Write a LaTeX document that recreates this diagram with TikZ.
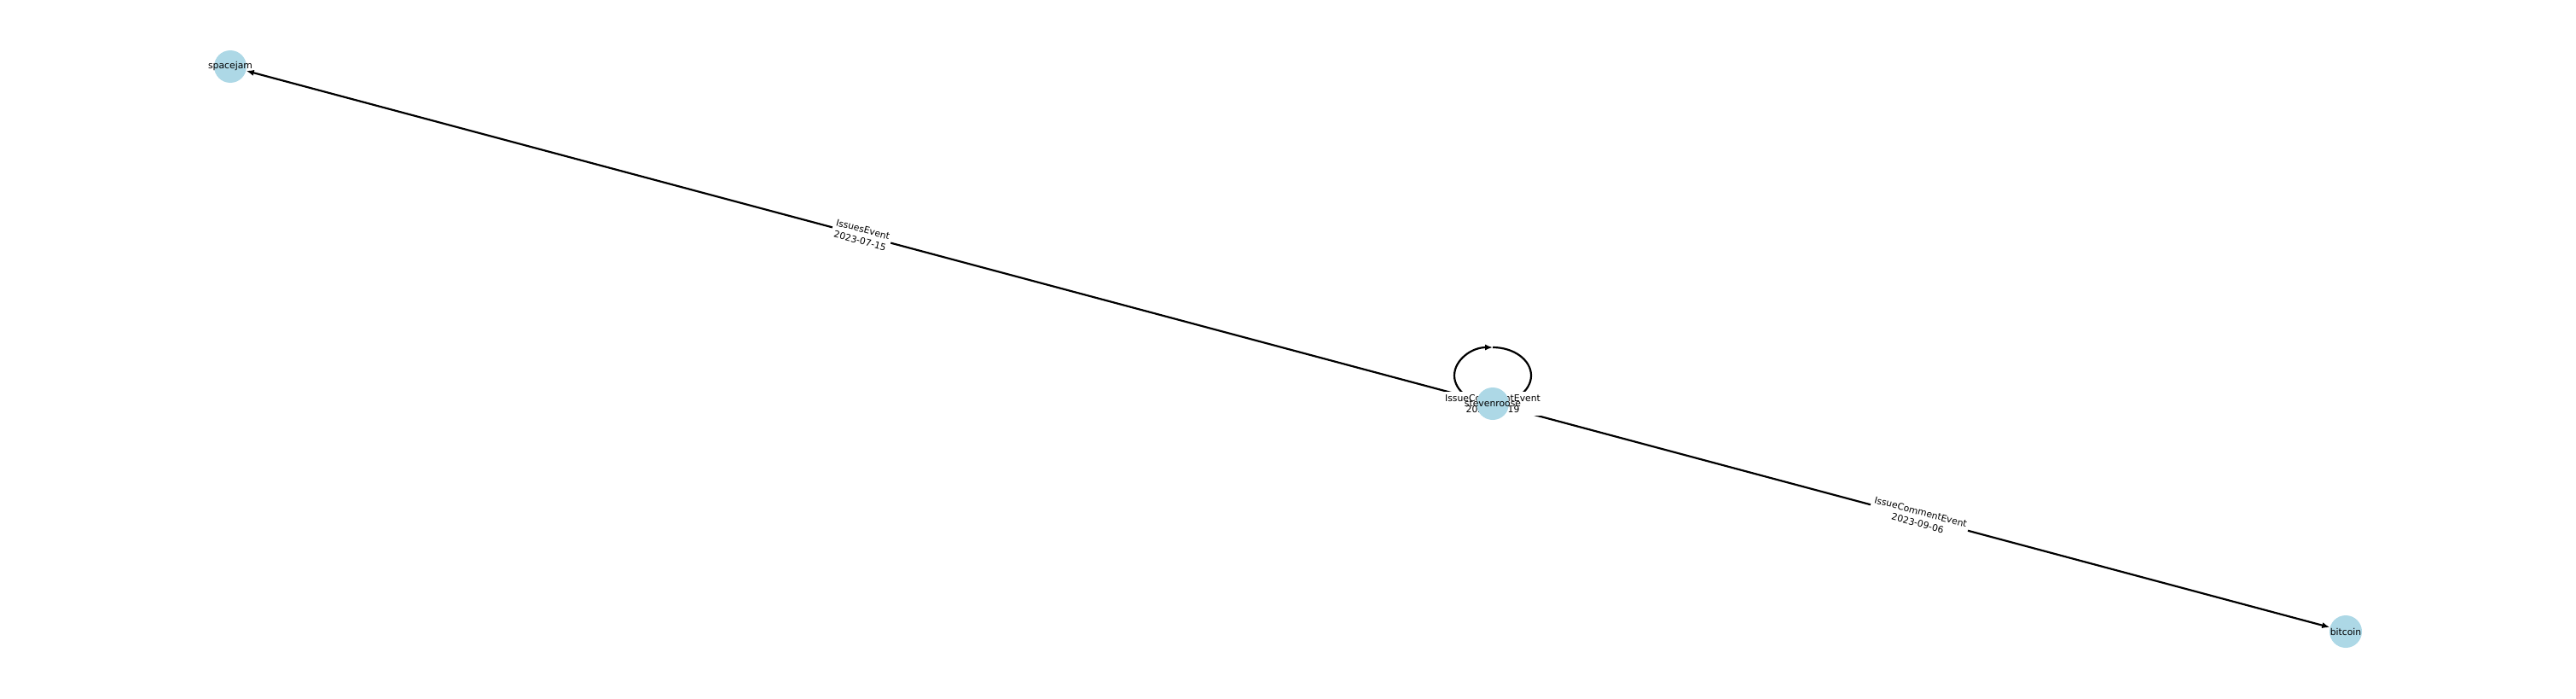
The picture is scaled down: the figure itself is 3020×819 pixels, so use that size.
\documentclass[tikz,border=0pt]{standalone}
\usepackage{fontspec}
\setmainfont{DejaVu Sans}
\usetikzlibrary{arrows.meta,backgrounds}
\definecolor{lightblue}{RGB}{173,216,230}
\newcommand{\nometxt}[1]{\makebox[0pt]{#1}}
\begin{document}
\begin{tikzpicture}[x=0.5pt, y=-0.5pt,
    nodo/.style={circle, fill=lightblue, minimum size=19pt, inner sep=0pt, font=\fontsize{5.4}{6.4}\selectfont},
    arco/.style={-{Latex[length=4.5pt,width=3.6pt]}, line width=1.1pt},
    etichetta/.style={fill=white, inner sep=1.5pt, align=center, font=\fontsize{5.4}{6.9}\selectfont}]
    \useasboundingbox (0,0) rectangle (3020,819);

    % Nodi
    \node[nodo] (spacejam) at (270,78) {\nometxt{spacejam}};
    \node[nodo] (stevenroose) at (1750,473) {\nometxt{stevenroose}};
    \node[nodo] (bitcoin) at (2750,740) {\nometxt{bitcoin}};
    \coordinate (looptop) at (1750,407);

    \begin{pgfonlayer}{background}
    % Archi
    \draw[arco] (stevenroose) -- node[etichetta, sloped] {IssuesEvent\\2023-07-15} (spacejam);
    \draw[arco] (stevenroose) -- node[etichetta, sloped] {IssueCommentEvent\\2023-09-06} (bitcoin);

    % Anello
    \draw[arco] (stevenroose.center) .. controls (1725,473) and (1705,458) .. (1705,440)
        .. controls (1705,422) and (1725,407) .. (looptop);
    \draw[line width=1.1pt] (looptop) .. controls (1775,407) and (1795,422) .. (1795,440)
        .. controls (1795,458) and (1775,473) .. (stevenroose.center);
    \node[etichetta] (looplabel) at (stevenroose.center) {IssueCommentEvent\\2023-08-19};
    \end{pgfonlayer}
\end{tikzpicture}
\end{document}
